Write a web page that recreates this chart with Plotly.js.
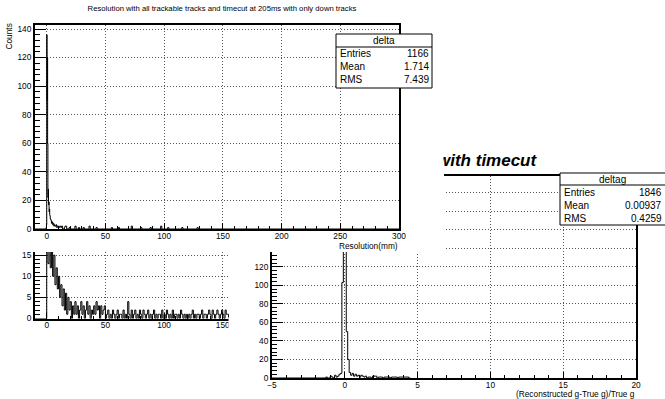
<!DOCTYPE html>
<html><head><meta charset="utf-8">
<script src="https://cdn.plot.ly/plotly-3.0.1.min.js"></script>
<style>html,body{margin:0;padding:0;background:#fff;}#chart{width:665px;height:399px;}</style>
</head><body><div id="chart"></div>
<script>
// ---- top pad: "delta" histogram (bin lower edges, counts) ----
const deltaEdges  = [-10, -0.5, -0.25, 0, 0.25, 0.5, 0.75, 1.0, 1.25, 1.5, 1.75, 2.0, 2.25, 2.5, 2.75, 3.0, 3.5, 4.0, 4.5, 5.0, 5.5, 6.0, 6.5, 7.0, 8.0, 8.5, 9.0, 10.0, 11.0, 12.0, 12.5, 13.5, 15.0, 15.5, 17.0, 19, 20, 24, 25, 27, 28, 31, 32, 36, 37, 42, 43, 55, 56, 61, 62, 72, 73, 80, 81, 88, 89, 97, 98, 103, 104, 115, 116, 128, 129, 300];
const deltaCounts = [0, 1, 3, 136, 90, 120, 60, 22, 28, 17, 19, 12, 14, 10, 9, 7, 6, 4, 5, 3, 4, 2, 3, 2, 3, 1, 2, 1, 2, 1, 2, 0, 1, 2, 0, 1, 0, 2, 0, 1, 0, 1, 0, 2, 0, 1, 0, 1, 0, 1, 0, 2, 0, 1, 0, 1, 0, 2, 0, 1, 0, 1, 0, 1, 0, 0];

// ---- lower-left pad: histogram, 1 mm bins starting at 0 ----
const lowStart = 0;
const lowWidth = 1;
const lowCounts = [19,13,21,12,17,10,15,8,12,7, 10,5,8,3,7,2,6,1,5,2, 4,0,3,1,4,1,3,0,2,4, 1,3,0,2,4,1,3,0,2,1, 3,1,4,2,3,0,3,1,2,3, 0,1,2,0,1,0,2,1,0,1, 2,0,1,1,0,2,0,1,0,4, 1,0,2,0,1,2,0,1,0,2, 1,0,2,1,0,1,2,0,1,0, 1,2,0,1,0,1,1,0,2,0, 1,0,2,1,0,1,0,2,0,1, 1,0,1,0,2,1,0,1,0,1, 0,1,0,1,2,0,1,0,1,1, 0,1,2,0,1,1,0,1,2,1, 0,2,1,0,1,2,1,0,1,2, 1,0,2,1,1,0];

// ---- lower-right pad: "deltag" histogram (bin lower edges, counts) ----
const deltagEdges  = [-5, -1.3, -1.2, -1.0, -0.9, -0.8, -0.7, -0.6, -0.5, -0.4, -0.3, -0.2, -0.1, 0.0, 0.1, 0.2, 0.3, 0.4, 0.5, 0.6, 0.7, 0.8, 0.9, 1.0, 1.1, 1.2, 1.3, 1.4, 1.5, 1.6, 1.8, 1.9, 2.2, 2.3, 2.6, 2.7, 3.1, 3.2, 3.6, 3.7, 4.4, 4.5, 20];
const deltagCounts = [0, 1, 0, 2, 1, 0, 3, 1, 2, 4, 5, 103, 208, 190, 50, 20, 6, 3, 5, 2, 4, 2, 3, 1, 3, 2, 1, 2, 0, 1, 0, 2, 0, 1, 0, 1, 0, 1, 0, 1, 0, 0];

// ---- texts ----
const mainTitle = 'Resolution with all trackable tracks and timecut at 205ms with only down tracks';
const statsDelta  = {name: 'delta',  labels: ['Entries', 'Mean', 'RMS'], values: ['1166', '1.714', '7.439']};
const statsDeltag = {name: 'deltag', labels: ['Entries', 'Mean', 'RMS'], values: ['1846', '0.00937', '0.4259']};

// ---------------------------------------------------------------
const W = 665, H = 399;
const px = v => v / W;
const py = v => 1 - v / H;
const FONT = 'Liberation Sans, Arial, Helvetica, sans-serif';

const lowEdges = [-10];
const lowVals = [0];
lowCounts.forEach((c, i) => { lowEdges.push(lowStart + i * lowWidth); lowVals.push(c); });
lowEdges.push(lowStart + lowCounts.length * lowWidth); lowVals.push(0);

function step(x, y, xa, ya) {
  return {type: 'scatter', mode: 'lines', x: x, y: y, xaxis: xa, yaxis: ya,
          line: {shape: 'hv', color: '#000', width: 1}, hoverinfo: 'skip', showlegend: false};
}
function blank(xa, ya) {
  return {type: 'scatter', mode: 'lines', x: [], y: [], xaxis: xa, yaxis: ya, showlegend: false, hoverinfo: 'skip'};
}

const traces = [
  step(deltagEdges, deltagCounts, 'x', 'y'),
  blank('x2', 'y2'),
  step(deltaEdges, deltaCounts, 'x3', 'y3'),
  step(lowEdges, lowVals, 'x4', 'y4'),
  blank('x5', 'y5')
];

function axis(o) {
  return Object.assign({
    showline: true, linecolor: '#000', linewidth: 2, mirror: true,
    ticks: 'inside', tickcolor: '#000', tickwidth: 1,
    showgrid: true, gridcolor: '#555', griddash: '1px,2px', gridwidth: 1,
    zeroline: false, tickmode: 'linear', fixedrange: true,
    tickfont: {family: FONT, size: 8.3, color: '#000'}
  }, o);
}
const hidden = o => Object.assign({visible: false, range: [0, 1], fixedrange: true}, o);

const ann = [];
function txt(t, x, y, xanchor, size, extra) {
  ann.push(Object.assign({xref: 'paper', yref: 'paper', x: px(x), y: py(y), xanchor: xanchor, yanchor: 'middle',
    text: t, showarrow: false, borderpad: 0, font: {family: FONT, size: size, color: '#000'}}, extra || {}));
}
// axis titles
txt('Counts', 8.5, 37, 'center', 8.3, {textangle: -90});
txt('Resolution(mm)', 399, 246, 'right', 8.3);
txt('(Reconstructed g-True g)/True g', 636, 393.5, 'right', 8.3);
// lower pad title (partly hidden by the top pad)
txt('with timecut', 539, 161, 'right', 17, {font: {family: FONT, size: 17, color: '#000', weight: 'bold', style: 'italic'}});
ann.push({xref: 'paper', yref: 'paper', x: px(444), y: py(161), xanchor: 'right', yanchor: 'middle',
  text: ' ', showarrow: false, width: 26, height: 28, bgcolor: '#fff', borderpad: 0});

const shapes = [];
function statsBox(s, x0, x1, y0, y1, sep, rows, head, fs) {
  shapes.push({type: 'rect', xref: 'paper', yref: 'paper', x0: px(x0), x1: px(x1), y0: py(y0), y1: py(y1),
    fillcolor: '#fff', line: {color: '#000', width: 1}, layer: 'above'});
  shapes.push({type: 'line', xref: 'paper', yref: 'paper', x0: px(x0), x1: px(x1), y0: py(sep), y1: py(sep),
    line: {color: '#000', width: 1}, layer: 'above'});
  txt(s.name, (x0 + Math.min(x1, W)) / 2, head, 'center', fs);
  s.labels.forEach((l, i) => {
    txt(l, x0 + 3, rows[i], 'left', fs);
    txt(s.values[i], Math.min(x1, W) - 2, rows[i], 'right', fs);
  });
}
statsBox(statsDelta, 336, 432, 34, 88, 47, [53.5, 66.5, 79], 40.5, 10);
statsBox(statsDeltag, 560, 668, 173, 225, 185, [192, 205.5, 218.5], 179, 10);

const layout = {
  width: W, height: H, autosize: false,
  margin: {l: 0, r: 0, t: 0, b: 0, pad: 0},
  paper_bgcolor: '#fff', plot_bgcolor: '#fff', showlegend: false,
  title: {text: mainTitle, x: px(222), xanchor: 'center', xref: 'paper', y: py(8), yanchor: 'middle', yref: 'paper',
          font: {family: FONT, size: 7.7, color: '#000'}},
  // lower-right pad (deltag)
  xaxis: axis({domain: [px(272), px(636)], range: [-5, 20], tick0: 0, dtick: 5, ticklen: 6, anchor: 'y', ticklabelstandoff: -2,
    minor: {ticks: 'inside', dtick: 1, tick0: 0, ticklen: 3, tickcolor: '#000', tickwidth: 1}}),
  yaxis: axis({domain: [py(378), py(176)], range: [0, 218], tick0: 0, dtick: 20, ticklen: 11, anchor: 'x',
    minor: {ticks: 'inside', dtick: 4, tick0: 0, ticklen: 5, tickcolor: '#000', tickwidth: 1}}),
  // cover of top pad
  xaxis2: hidden({domain: [0, px(444)], anchor: 'y2'}),
  yaxis2: hidden({domain: [py(252), 1], anchor: 'x2'}),
  // top pad (delta)
  xaxis3: axis({domain: [px(35), px(399)], range: [-10, 300], tick0: 0, dtick: 50, ticklen: 6, anchor: 'y3', ticklabelstandoff: -2,
    minor: {ticks: 'inside', dtick: 10, tick0: 0, ticklen: 3, tickcolor: '#000', tickwidth: 1}}),
  yaxis3: axis({domain: [py(229), py(25)], range: [0, 142.8], tick0: 0, dtick: 20, ticklen: 11, anchor: 'x3',
    minor: {ticks: 'inside', dtick: 4, tick0: 0, ticklen: 5, tickcolor: '#000', tickwidth: 1}}),
  // lower-left pad
  xaxis4: axis({domain: [px(35), px(229)], range: [-10, 155.35], tick0: 0, dtick: 50, ticklen: 6, anchor: 'y4', mirror: false, ticklabelstandoff: -2,
    minor: {ticks: 'inside', dtick: 10, tick0: 0, ticklen: 3, tickcolor: '#000', tickwidth: 1}}),
  yaxis4: axis({domain: [py(318.5), py(252)], range: [0, 15.75], tick0: 0, dtick: 5, ticklen: 11, anchor: 'x4', mirror: false,
    minor: {ticks: 'inside', dtick: 1, tick0: 0, ticklen: 5, tickcolor: '#000', tickwidth: 1}}),
  // cover clipping the lower-left pad
  xaxis5: hidden({domain: [px(228.5), px(250)], anchor: 'y5'}),
  yaxis5: hidden({domain: [py(340), py(317)], anchor: 'x5'}),
  shapes: shapes,
  annotations: ann
};

Plotly.newPlot('chart', traces, layout, {staticPlot: true, displayModeBar: false});
</script>
</body></html>
